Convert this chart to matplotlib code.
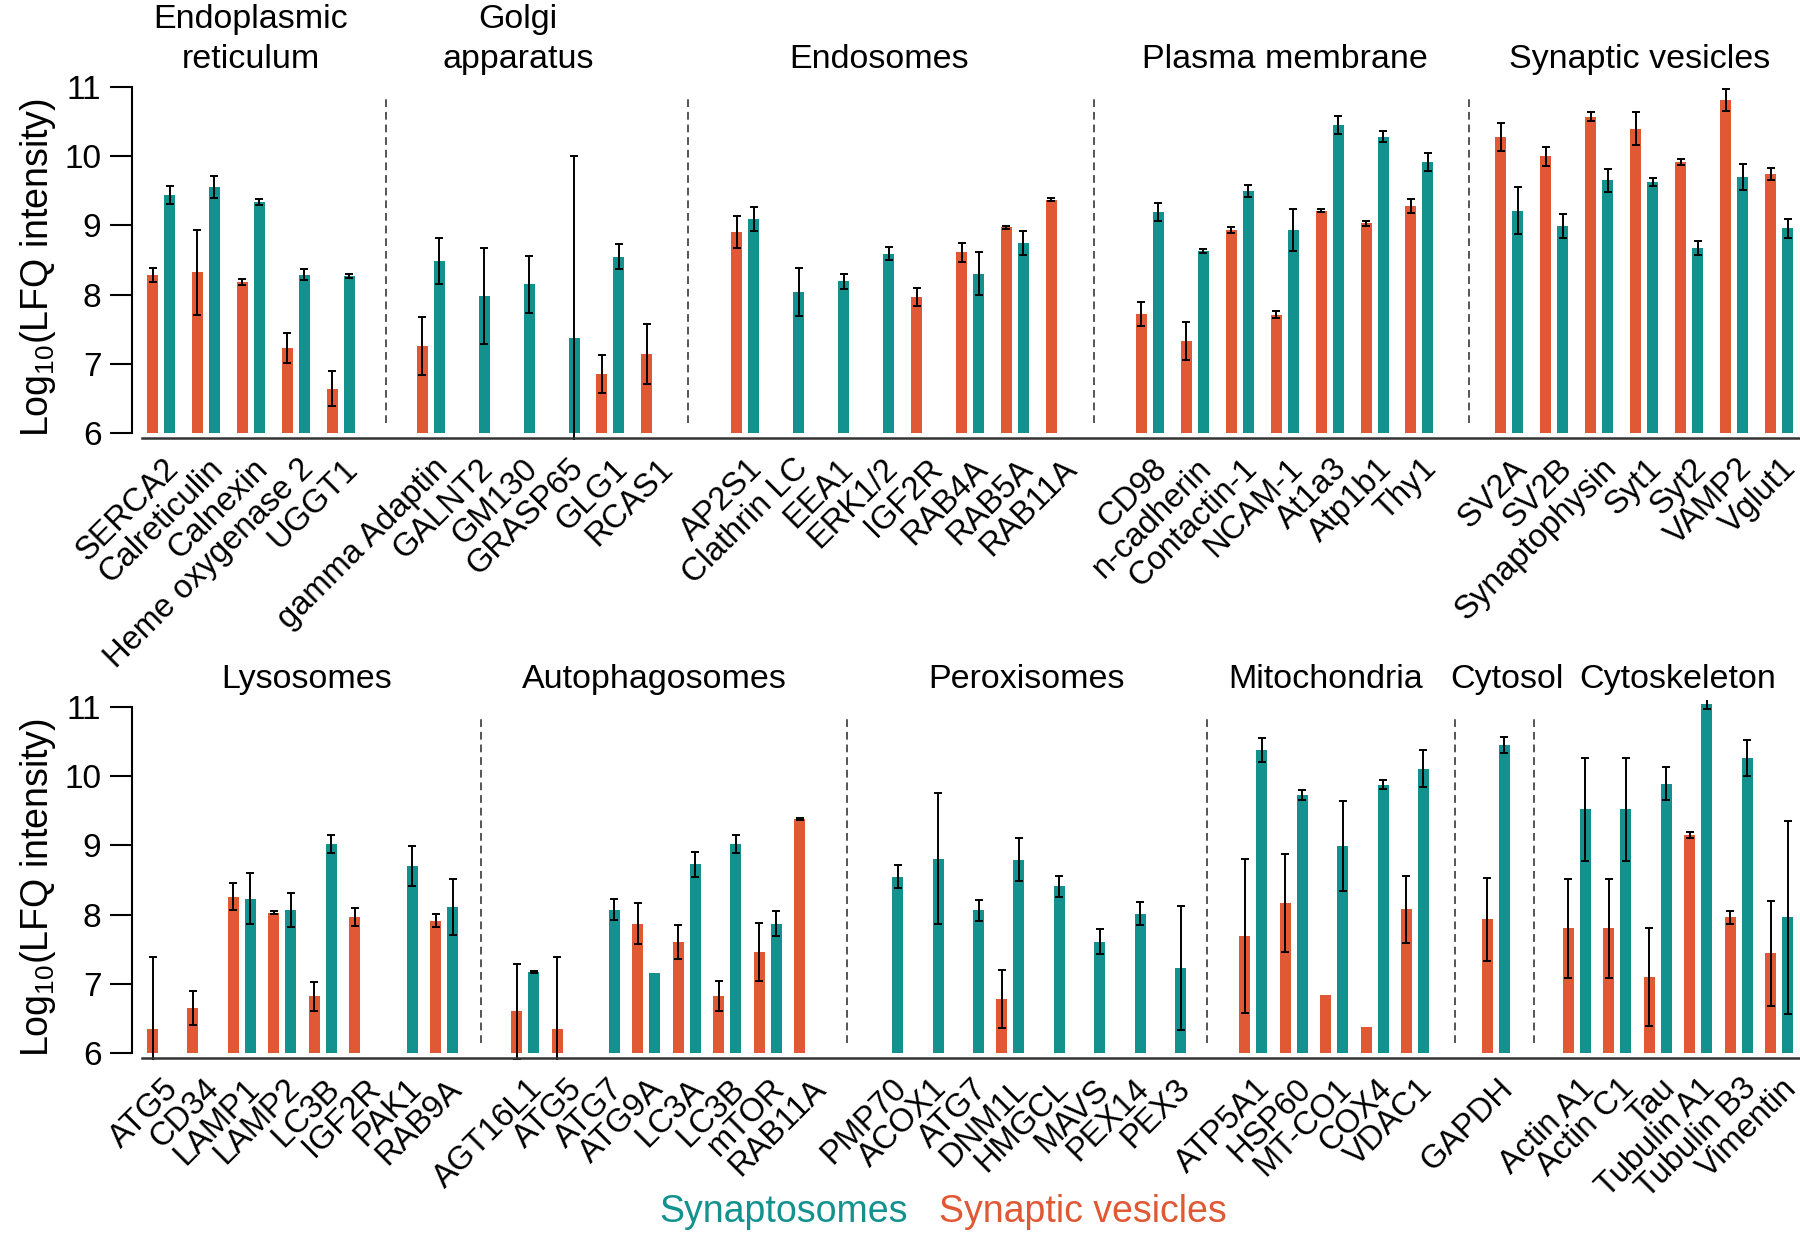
import matplotlib
matplotlib.use("Agg")
import matplotlib.pyplot as plt
import numpy as np

plt.rcParams['font.family'] = ['Liberation Sans', 'DejaVu Sans']

#Colours of the two fractions.
SV_COLOR = '#E05834'
SYN_COLOR = '#12918F'

#----------------------------------------------------------------------#
# Data: log10 LFQ intensity (mean, error) per protein, grouped by organelle.
# None = not detected.
#----------------------------------------------------------------------#
top_groups = ["Endoplasmic\nreticulum", "Golgi\napparatus", "Endosomes",
              "Plasma membrane", "Synaptic vesicles"]
top_labels = [
    ["SERCA2", "Calreticulin", "Calnexin", "Heme oxygenase 2", "UGGT1"],
    ["gamma Adaptin", "GALNT2", "GM130", "GRASP65", "GLG1", "RCAS1"],
    ["AP2S1", "Clathrin LC", "EEA1", "ERK1/2", "IGF2R", "RAB4A", "RAB5A", "RAB11A"],
    ["CD98", "n-cadherin", "Contactin-1", "NCAM-1", "At1a3", "Atp1b1", "Thy1"],
    ["SV2A", "SV2B", "Synaptophysin", "Syt1", "Syt2", "VAMP2", "Vglut1"],
]
top_sv = [
    [8.28, 8.32, 8.18, 7.23, 6.64],
    [7.26, None, None, None, 6.85, 7.14],
    [8.90, None, None, None, 7.96, 8.61, 8.97, 9.37],
    [7.72, 7.33, 8.93, 7.71, 9.21, 9.03, 9.28],
    [10.28, 10.00, 10.57, 10.40, 9.92, 10.81, 9.74],
]
top_sv_err = [
    [0.10, 0.61, 0.04, 0.22, 0.25],
    [0.42, None, None, None, 0.27, 0.43],
    [0.23, None, None, None, 0.13, 0.14, 0.02, 0.02],
    [0.18, 0.27, 0.045, 0.05, 0.02, 0.035, 0.095],
    [0.20, 0.135, 0.065, 0.24, 0.045, 0.155, 0.085],
]
top_syn = [
    [9.44, 9.55, 9.34, 8.29, 8.27],
    [8.49, 7.98, 8.15, 7.38, 8.55, None],
    [9.09, 8.04, 8.19, 8.59, None, 8.30, 8.75, None],
    [9.20, 8.63, 9.50, 8.93, 10.45, 10.28, 9.92],
    [9.21, 8.99, 9.65, 9.63, 8.67, 9.70, 8.96],
]
top_syn_err = [
    [0.13, 0.16, 0.045, 0.075, 0.03],
    [0.33, 0.70, 0.41, 2.62, 0.18, None],
    [0.17, 0.35, 0.11, 0.095, None, 0.31, 0.175, None],
    [0.13, 0.035, 0.09, 0.30, 0.135, 0.08, 0.13],
    [0.34, 0.17, 0.165, 0.06, 0.10, 0.185, 0.135],
]

bot_groups = ["Lysosomes", "Autophagosomes", "Peroxisomes", "Mitochondria",
              "Cytosol", "Cytoskeleton"]
bot_labels = [
    ["ATG5", "CD34", "LAMP1", "LAMP2", "LC3B", "IGF2R", "PAK1", "RAB9A"],
    ["AGT16L1", "ATG5", "ATG7", "ATG9A", "LC3A", "LC3B", "mTOR", "RAB11A"],
    ["PMP70", "ACOX1", "ATG7", "DNM1L", "HMGCL", "MAVS", "PEX14", "PEX3"],
    ["ATP5A1", "HSP60", "MT-CO1", "COX4", "VDAC1"],
    ["GAPDH"],
    ["Actin A1", "Actin C1", "Tau", "Tubulin A1", "Tubulin B3", "Vimentin"],
]
bot_sv = [
    [6.35, 6.65, 8.26, 8.03, 6.82, 7.96, None, 7.91],
    [6.60, 6.35, None, 7.87, 7.60, 6.82, 7.46, 9.38],
    [None, None, None, 6.78, None, None, None, None],
    [7.69, 8.17, 6.84, 6.38, 8.08],
    [7.93],
    [7.80, 7.80, 7.10, 9.15, 7.96, 7.44],
]
bot_sv_err = [
    [1.04, 0.245, 0.195, 0.025, 0.21, 0.13, None, 0.095],
    [0.68, 1.04, None, 0.30, 0.245, 0.215, 0.42, 0.015],
    [None, None, None, 0.425, None, None, None, None],
    [1.115, 0.705, None, None, 0.485],
    [0.595],
    [0.72, 0.72, 0.705, 0.05, 0.095, 0.76],
]
bot_syn = [
    [None, None, 8.23, 8.06, 9.02, None, 8.70, 8.11],
    [7.17, None, 8.07, 7.15, 8.73, 9.02, 7.87, None],
    [8.55, 8.81, 8.06, 8.79, 8.41, 7.61, 8.01, 7.23],
    [10.38, 9.73, 8.99, 9.88, 10.11],
    [10.45],
    [9.52, 9.52, 9.89, 11.04, 10.27, 7.96],
]
bot_syn_err = [
    [None, None, 0.365, 0.245, 0.135, None, 0.29, 0.41],
    [0.02, None, 0.15, None, 0.18, 0.135, 0.18, None],
    [0.16, 0.94, 0.155, 0.31, 0.15, 0.175, 0.165, 0.895],
    [0.17, 0.07, 0.655, 0.07, 0.27],
    [0.12],
    [0.745, 0.745, 0.24, 0.07, 0.26, 1.39],
]

#----------------------------------------------------------------------#
# Layout (pixels of the 1800x1239 image).
#----------------------------------------------------------------------#
W, H = 1800, 1239
AX_L, AX_R = 132, 1799
FIRST_PX, LAST_PX = 161, 1779
BAR_W_PX = 11
OFF_PX = 8.5
Y_LO, Y_HI = 5.9, 11.1

fig = plt.figure(figsize=(W / 100, H / 100), dpi=100)


#Converts a list that may hold None into floats with nan.
def arr(vals):
    return np.array([np.nan if v is None else v for v in vals], dtype=float)


def flat(nested):
    out = []
    for g in nested:
        out.extend(g)
    return out


#Draws one row of organelle groups.
def drawPanel(groups, labels, sv, sv_err, syn, syn_err, y6, y11,
              title_shift, dash_shift):
    unit = (y6 - y11) / 5.0
    top_px = y11 - (Y_HI - 11) * unit
    bot_px = y6 + (6 - Y_LO) * unit
    ax = fig.add_axes([AX_L / W, 1 - bot_px / H, (AX_R - AX_L) / W, (bot_px - top_px) / H])

    pos = []
    centers = []
    dashes = []
    x = 0
    for gi, labs in enumerate(labels):
        start = x
        for lab in labs:
            pos.append(x)
            x += 1
        centers.append((start + x - 1) / 2.0)
        if gi < len(labels) - 1:
            dashes.append(x)
            x += 1
    pos = np.array(pos, dtype=float)
    step = (LAST_PX - FIRST_PX) / (x - 1)
    ax.set_xlim((AX_L - FIRST_PX) / step, (AX_R - FIRST_PX) / step)
    ax.set_ylim(Y_LO, Y_HI)
    bw = BAR_W_PX / step
    off = OFF_PX / step

    for vals, errs, sign, col in [(sv, sv_err, -1, SV_COLOR), (syn, syn_err, 1, SYN_COLOR)]:
        v = arr(flat(vals))
        e = arr(flat(errs))
        xs = pos + sign * off
        ok = ~np.isnan(v)
        ax.bar(xs[ok], v[ok] - 6, bottom=6, width=bw, color=col, zorder=2)
        ok2 = ok & ~np.isnan(e)
        ax.errorbar(xs[ok2], v[ok2], yerr=e[ok2], fmt='none', ecolor='black',
                    elinewidth=1.4, capsize=3, capthick=1.4, zorder=3)

    #x axis line, a little under 6.
    base = 6 - 5 / unit
    ax.plot([(142 - FIRST_PX) / step, (AX_R - FIRST_PX) / step], [base, base],
            color='#333333', lw=1.8, clip_on=False, zorder=4)

    for d, s in zip(dashes, dash_shift):
        ax.plot([d + s, d + s], [6.14, 10.82], color='#555555', lw=1.4,
                linestyle=(0, (4, 2.5)), zorder=1)

    lab_y = base - 15 / unit
    for p, lab in zip(pos, flat(labels)):
        ax.text(p + 0.04, lab_y, lab, rotation=45, ha='right', va='top',
                rotation_mode='anchor', fontsize=23.5, clip_on=False)

    title_base = 11 + 19 / unit
    for c, name, s in zip(centers, groups, title_shift):
        lines = name.split("\n")
        for k, line in enumerate(reversed(lines)):
            ax.text(c + s, title_base + k * 40 / unit, line, ha='center',
                    va='baseline', fontsize=24.5, clip_on=False)

    for side in ['top', 'right', 'bottom']:
        ax.spines[side].set_visible(False)
    ax.spines['left'].set_bounds(6, 11)
    ax.spines['left'].set_linewidth(1.5)
    ax.set_yticks(range(6, 12))
    ax.set_xticks([])
    ax.tick_params(axis='y', length=16, width=1.5, pad=6, labelsize=24)
    ax.patch.set_alpha(0)

    ycen = 1 - ((y6 + y11) / 2 + 8) / H
    fig.text(38 / W, ycen, r'Log$_{\mathregular{10}}$(LFQ intensity)', rotation=90,
             ha='center', va='center', fontsize=27)
    return ax


drawPanel(top_groups, top_labels, top_sv, top_sv_err, top_syn, top_syn_err,
          433, 87, [0, -0.55, -0.52, 0, -0.1], [0, -0.28, -0.25, 0.1])
drawPanel(bot_groups, bot_labels, bot_sv, bot_sv_err, bot_syn, bot_syn_err,
          1053, 707, [0.1, -0.3, -0.1, -0.2, 0.27, 0], [-0.1, -0.05, -0.15, 0, -0.05])

#Legend as coloured words.
fig.text(659 / W, 1 - 1222 / H, "Synaptosomes", color=SYN_COLOR, fontsize=27,
         ha='left', va='baseline')
fig.text(939 / W, 1 - 1222 / H, "Synaptic vesicles", color=SV_COLOR, fontsize=27,
         ha='left', va='baseline')

fig.savefig("out.png", dpi=100)
